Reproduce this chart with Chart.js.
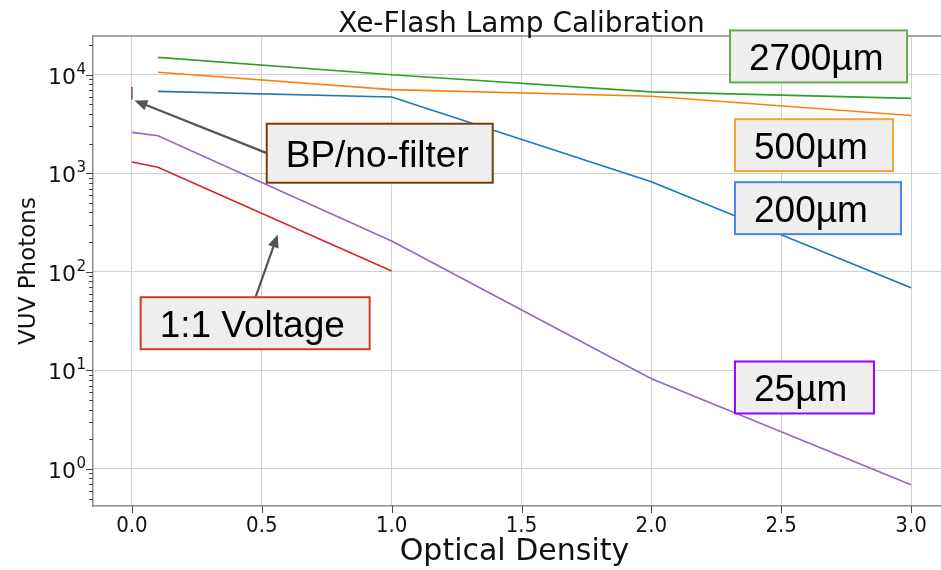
<!DOCTYPE html>
<html>
<head>
<meta charset="utf-8">
<title>Xe-Flash Lamp Calibration</title>
<script src="https://cdn.jsdelivr.net/npm/chart.js@4/dist/chart.umd.min.js"></script>
<style>
  html, body { margin: 0; padding: 0; background: #ffffff; overflow: hidden; }
  #wrap { width: 960px; height: 570px; }
</style>
</head>
<body>
<div id="wrap"><canvas id="chart" width="960" height="570"></canvas></div>
<script>
// ---- measured data: VUV photons vs. optical density of the ND filter ----
const od = [0.1, 1.0, 2.0, 3.0];
const photons200um = [6770, 5930, 820, 69];
const photons500um = [10600, 7050, 6050, 3850];
const photons2700um = [15000, 10000, 6700, 5750];

const od25um = [0.0, 0.1, 1.0, 2.0, 3.0];
const photons25um = [2600, 2400, 205, 8.2, 0.69];

const odVoltage = [0.0, 0.1, 1.0];
const photonsVoltage = [1300, 1150, 102];

const odNoFilter = [0.0, 0.0];
const photonsNoFilter = [7500, 5600];

// ---- axis ticks ----
const xTicks = [0.0, 0.5, 1.0, 1.5, 2.0, 2.5, 3.0];
const xTickLabels = ['0.0', '0.5', '1.0', '1.5', '2.0', '2.5', '3.0'];
const yDecades = [1, 10, 100, 1000, 10000];
const yDecadeExponents = ['0', '1', '2', '3', '4'];

const Y_MIN = 0.42, Y_MAX = 24700;
const X_MIN = -0.15, X_MAX = 3.15;

const toPoints = (xs, ys) => xs.map((x, i) => ({ x: x, y: ys[i] }));

// minor log ticks (2..9 per decade) plus the decades themselves
const yTickValues = [];
[0.1].concat(yDecades).forEach(d => {
  for (let m = 1; m <= 9; m++) {
    const v = +(m * d).toPrecision(6);
    if (v >= Y_MIN && v <= Y_MAX) yTickValues.push(v);
  }
});
const isDecade = v => Math.abs(Math.log10(v) - Math.round(Math.log10(v))) < 1e-9;

// ---- text boxes with coloured borders (top-left corner in data units) ----
const boxes = [
  { text: '2700\u00B5m', border: '#6aa84f', x: 2.303, y: 28150, w: 177, h: 52 },
  { text: '500\u00B5m', border: '#f6a53a', x: 2.322, y: 3540, w: 158, h: 52 },
  { text: '200\u00B5m', border: '#4a86e8', x: 2.322, y: 812, w: 166, h: 52 },
  { text: '25\u00B5m', border: '#9900ff', x: 2.322, y: 12.3, w: 139, h: 52 },
  { text: '1:1 Voltage', border: '#cc4125', x: 0.0335, y: 55.2, w: 229, h: 52 },
  { text: 'BP/no-filter', border: '#783f04', x: 0.519, y: 3180, w: 226, h: 59 }
];
const arrows = [
  { from: [0.519, 1600], to: [0.0096, 5480] },
  { from: [0.476, 55.2], to: [0.561, 239] }
];

const FRAME = '#8c8c8c';
const GRID = '#d0d0d0';

const decor = {
  id: 'decor',
  beforeDatasetsDraw(chart) {
    const { ctx, chartArea: a, scales } = chart;
    ctx.save();
    // top edge of the frame
    ctx.strokeStyle = FRAME;
    ctx.lineWidth = 1.5;
    ctx.beginPath();
    ctx.moveTo(a.left, a.top); ctx.lineTo(a.right, a.top);
    ctx.stroke();
    // tick marks
    ctx.strokeStyle = '#444';
    ctx.lineWidth = 1;
    scales.y.ticks.forEach(t => {
      const p = Math.round(scales.y.getPixelForValue(t.value)) + 0.5;
      const len = isDecade(t.value) ? 7 : 4;
      ctx.beginPath(); ctx.moveTo(a.left, p); ctx.lineTo(a.left - len, p); ctx.stroke();
    });
    scales.x.ticks.forEach(t => {
      const p = Math.round(scales.x.getPixelForValue(t.value)) + 0.5;
      ctx.beginPath(); ctx.moveTo(p, a.bottom); ctx.lineTo(p, a.bottom + 7); ctx.stroke();
    });
    // decade labels on the log axis: "10" with a raised exponent
    ctx.fillStyle = '#111';
    ctx.textBaseline = 'alphabetic';
    yDecades.forEach((d, i) => {
      const p = scales.y.getPixelForValue(d);
      ctx.font = '15px "DejaVu Sans"';
      ctx.textAlign = 'right';
      const right = a.left - 7;
      ctx.fillText(yDecadeExponents[i], right, p - 1);
      const ew = ctx.measureText(yDecadeExponents[i]).width;
      ctx.font = '22px "DejaVu Sans"';
      ctx.fillText('10', right - ew - 0.5, p + 9);
    });
    // titles
    ctx.textAlign = 'center';
    ctx.font = '28px "DejaVu Sans"';
    ctx.fillText('Xe-Flash Lamp Calibration', (a.left + a.right) / 2, 31.5);
    ctx.font = '30px "DejaVu Sans"';
    ctx.fillText('Optical Density', (a.left + a.right) / 2 - 7, 560);
    ctx.save();
    ctx.translate(35, (a.top + a.bottom) / 2);
    ctx.rotate(-Math.PI / 2);
    ctx.font = '23px "DejaVu Sans"';
    ctx.fillText('VUV Photons', 0, 0);
    ctx.restore();
    ctx.restore();
  },
  afterDatasetsDraw(chart) {
    const { ctx, scales } = chart;
    const X = v => scales.x.getPixelForValue(v);
    const Y = v => scales.y.getPixelForValue(v);
    ctx.save();
    // arrows
    arrows.forEach(ar => {
      const x1 = X(ar.from[0]), y1 = Y(ar.from[1]);
      const x2 = X(ar.to[0]), y2 = Y(ar.to[1]);
      const ang = Math.atan2(y2 - y1, x2 - x1);
      const head = 13, half = 5.5;
      ctx.strokeStyle = '#555555';
      ctx.fillStyle = '#555555';
      ctx.lineWidth = 2.2;
      ctx.beginPath();
      ctx.moveTo(x1, y1);
      ctx.lineTo(x2 - Math.cos(ang) * head * 0.8, y2 - Math.sin(ang) * head * 0.8);
      ctx.stroke();
      ctx.beginPath();
      ctx.moveTo(x2, y2);
      ctx.lineTo(x2 - Math.cos(ang) * head - Math.sin(ang) * half, y2 - Math.sin(ang) * head + Math.cos(ang) * half);
      ctx.lineTo(x2 - Math.cos(ang) * head + Math.sin(ang) * half, y2 - Math.sin(ang) * head - Math.cos(ang) * half);
      ctx.closePath();
      ctx.fill();
    });
    // labelled boxes
    boxes.forEach(b => {
      const left = X(b.x), top = Y(b.y);
      ctx.fillStyle = '#eeeeee';
      ctx.fillRect(left, top, b.w, b.h);
      ctx.strokeStyle = b.border;
      ctx.lineWidth = 2;
      ctx.strokeRect(left, top, b.w, b.h);
      ctx.fillStyle = '#000000';
      ctx.font = '37px "Liberation Sans", Arial, sans-serif';
      ctx.textAlign = 'left';
      ctx.textBaseline = 'alphabetic';
      ctx.fillText(b.text, left + 19, top + b.h / 2 + 14);
    });
    ctx.restore();
  }
};

const lineStyle = color => ({
  borderColor: color, backgroundColor: color, borderWidth: 1.6,
  pointRadius: 0, pointHoverRadius: 0, tension: 0, fill: false
});

new Chart(document.getElementById('chart'), {
  type: 'line',
  data: {
    datasets: [
      Object.assign({ label: '200\u00B5m', data: toPoints(od, photons200um) }, lineStyle('#1f77b4')),
      Object.assign({ label: '500\u00B5m', data: toPoints(od, photons500um) }, lineStyle('#ff7f0e')),
      Object.assign({ label: '2700\u00B5m', data: toPoints(od, photons2700um) }, lineStyle('#2ca02c')),
      Object.assign({ label: '1:1 Voltage', data: toPoints(odVoltage, photonsVoltage) }, lineStyle('#d62728')),
      Object.assign({ label: '25\u00B5m', data: toPoints(od25um, photons25um) }, lineStyle('#9467bd')),
      Object.assign({ label: 'BP/no-filter', data: toPoints(odNoFilter, photonsNoFilter) }, lineStyle('#8c564b'))
    ]
  },
  options: {
    responsive: false,
    animation: false,
    devicePixelRatio: 1,
    layout: { padding: { top: 36, right: 10, left: 0, bottom: 0 } },
    plugins: { legend: { display: false }, title: { display: false }, tooltip: { enabled: false } },
    scales: {
      x: {
        type: 'linear', min: X_MIN, max: X_MAX,
        afterBuildTicks: s => { s.ticks = xTicks.map(v => ({ value: v })); },
        afterFit: s => { s.height = 64; },
        grid: { color: GRID, lineWidth: 1, drawTicks: false },
        border: { display: true, color: FRAME, width: 1.5 },
        ticks: {
          autoSkip: false, maxRotation: 0, padding: 7,
          color: '#111', font: { family: '"DejaVu Sans Condensed", "DejaVu Sans"', size: 22 },
          callback: v => { const i = xTicks.indexOf(v); return i >= 0 ? xTickLabels[i] : ''; }
        }
      },
      y: {
        type: 'logarithmic', min: Y_MIN, max: Y_MAX,
        afterBuildTicks: s => { s.ticks = yTickValues.map(v => ({ value: v })); },
        afterFit: s => { s.width = 93; },
        grid: { color: c => (c.tick && isDecade(c.tick.value)) ? GRID : 'rgba(0,0,0,0)', lineWidth: 1, drawTicks: false },
        border: { display: true, color: FRAME, width: 1.5 },
        ticks: { autoSkip: false, display: false }
      }
    }
  },
  plugins: [decor]
});
</script>
</body>
</html>
